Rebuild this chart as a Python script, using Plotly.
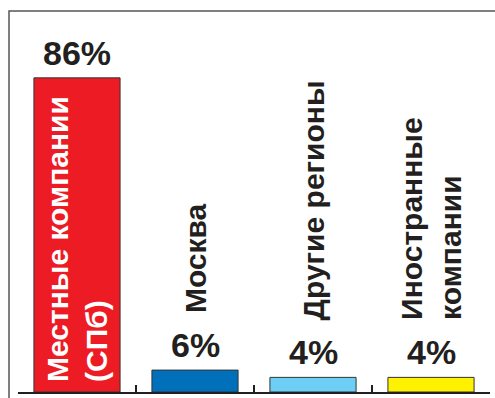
import plotly.graph_objects as go

categories = ["Местные компании<br>(СПб)", "Москва", "Другие регионы", "Иностранные<br>компании"]
values = [86, 6, 4, 4]
value_labels = ["86%", "6%", "4%", "4%"]
colors = ["#ED1C24", "#0070BA", "#6DCFF6", "#FFF200"]
label_inside = [True, False, False, False]

idx = list(range(len(categories)))

NARROW = "Liberation Sans Narrow, Arial Narrow, Liberation Sans, Arial, sans-serif"
SANS = "Liberation Sans, Arial, sans-serif"

fig = go.Figure()
fig.add_trace(go.Bar(
    x=idx, y=values, width=0.73,
    marker=dict(color=colors, line=dict(color="#333333", width=1)),
    hoverinfo="skip",
))

annotations = []
for i, (v, vl, cat, inside) in enumerate(zip(values, value_labels, categories, label_inside)):
    annotations.append(dict(
        x=i, y=v, xref="x", yref="y", text=vl, showarrow=False,
        yanchor="bottom", xanchor="center", yshift=4,
        font=dict(family=NARROW, size=34, color="#231F20", weight="bold"),
    ))
    if inside:
        annotations.append(dict(
            x=i, y=0, xref="x", yref="y", text=cat, showarrow=False,
            yanchor="bottom", xanchor="center", yshift=8, textangle=-90, align="left",
            font=dict(family=SANS, size=30, color="white", weight="bold"),
        ))
    else:
        annotations.append(dict(
            x=i, y=v, xref="x", yref="y", text=cat, showarrow=False,
            yanchor="bottom", xanchor="center", yshift=55, textangle=-90, align="left",
            font=dict(family=SANS, size=30, color="#231F20", weight="bold"),
        ))

fig.update_layout(
    width=495, height=398,
    margin=dict(l=18, r=5, t=11, b=6),
    paper_bgcolor="white", plot_bgcolor="white",
    showlegend=False,
    annotations=annotations,
    xaxis=dict(
        range=[-0.5, len(categories) - 0.5],
        tickvals=[i - 0.5 for i in range(len(categories) + 1)],
        showticklabels=False, ticks="inside", ticklen=7, tickwidth=2, tickcolor="#231F20",
        showline=True, linecolor="#231F20", linewidth=2, showgrid=False, zeroline=False,
        fixedrange=True,
    ),
    yaxis=dict(range=[0, 104.3], visible=False, showgrid=False, zeroline=False, fixedrange=True),
    shapes=[dict(
        type="rect", xref="paper", yref="paper",
        x0=-9 / 472, x1=1.2, y0=-0.2, y1=1.0,
        line=dict(color="#555555", width=1.5), layer="below",
    )],
)

fig.write_html("out.html", config={"displayModeBar": False})
